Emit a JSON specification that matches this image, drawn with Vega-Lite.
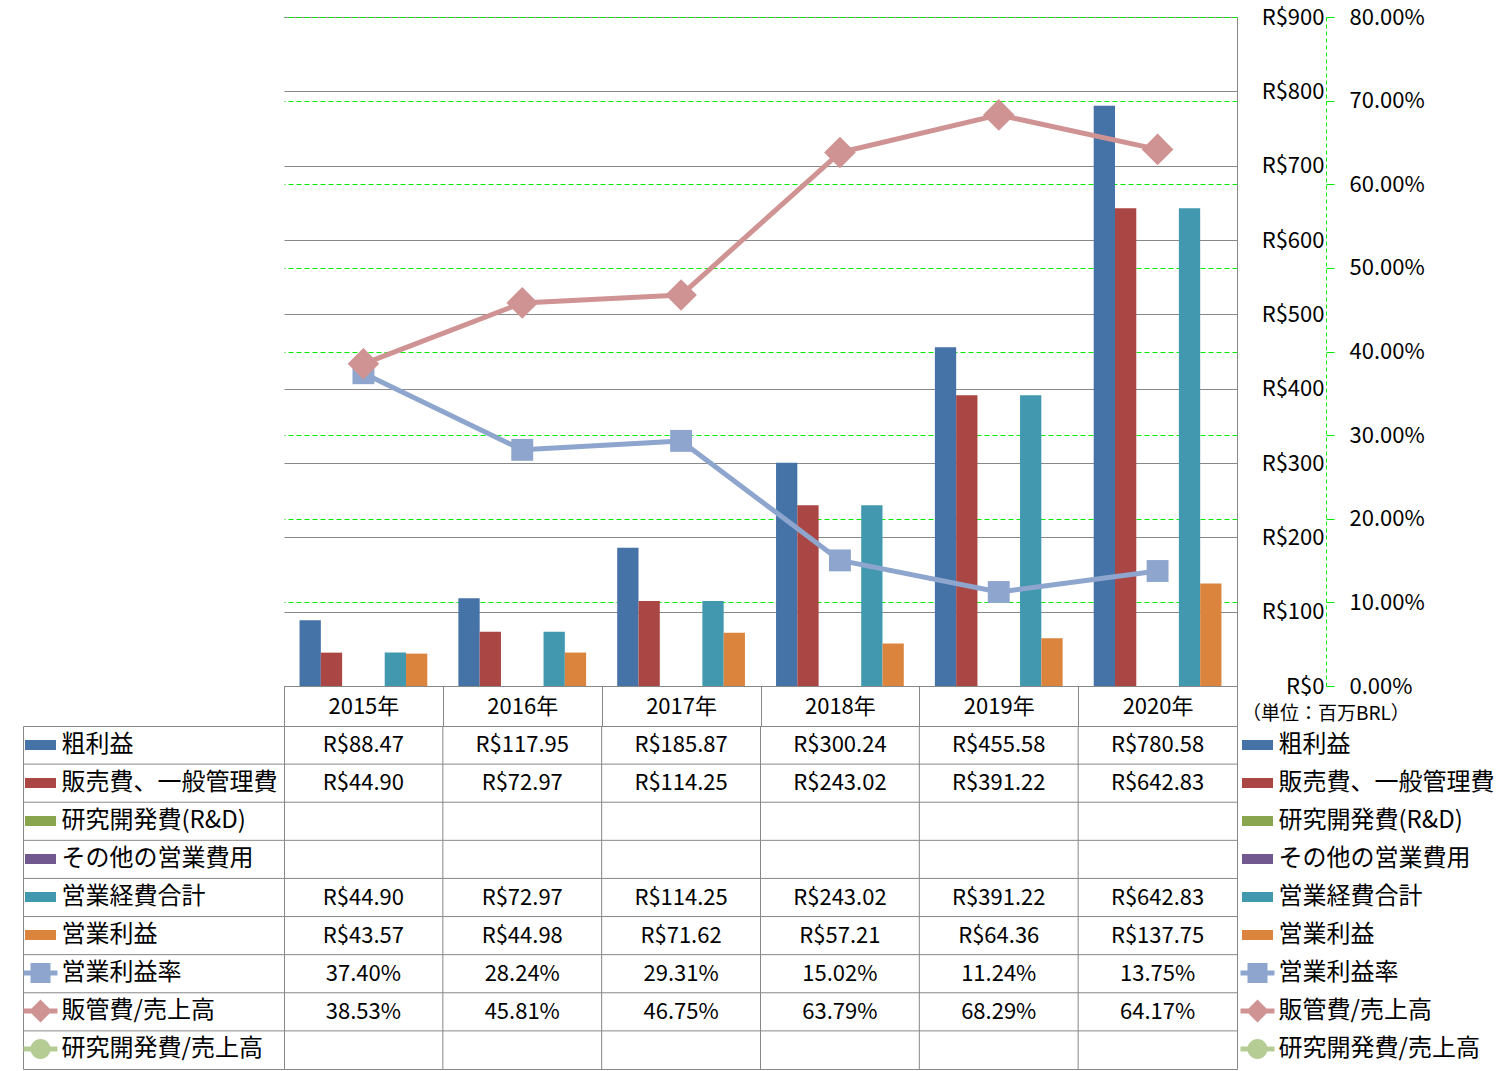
{
  "$schema": "https://vega.github.io/schema/vega-lite/v6.json",
  "background": "white",
  "padding": {"left": 22, "top": 6, "right": 0, "bottom": 2},
  "autosize": {"type": "pad"},
  "datasets": {
    "bars": [
      {"year": "2015年", "series": "粗利益", "value": 88.47},
      {"year": "2016年", "series": "粗利益", "value": 117.95},
      {"year": "2017年", "series": "粗利益", "value": 185.87},
      {"year": "2018年", "series": "粗利益", "value": 300.24},
      {"year": "2019年", "series": "粗利益", "value": 455.58},
      {"year": "2020年", "series": "粗利益", "value": 780.58},
      {"year": "2015年", "series": "販売費、一般管理費", "value": 44.90},
      {"year": "2016年", "series": "販売費、一般管理費", "value": 72.97},
      {"year": "2017年", "series": "販売費、一般管理費", "value": 114.25},
      {"year": "2018年", "series": "販売費、一般管理費", "value": 243.02},
      {"year": "2019年", "series": "販売費、一般管理費", "value": 391.22},
      {"year": "2020年", "series": "販売費、一般管理費", "value": 642.83},
      {"year": "2015年", "series": "営業経費合計", "value": 44.90},
      {"year": "2016年", "series": "営業経費合計", "value": 72.97},
      {"year": "2017年", "series": "営業経費合計", "value": 114.25},
      {"year": "2018年", "series": "営業経費合計", "value": 243.02},
      {"year": "2019年", "series": "営業経費合計", "value": 391.22},
      {"year": "2020年", "series": "営業経費合計", "value": 642.83},
      {"year": "2015年", "series": "営業利益", "value": 43.57},
      {"year": "2016年", "series": "営業利益", "value": 44.98},
      {"year": "2017年", "series": "営業利益", "value": 71.62},
      {"year": "2018年", "series": "営業利益", "value": 57.21},
      {"year": "2019年", "series": "営業利益", "value": 64.36},
      {"year": "2020年", "series": "営業利益", "value": 137.75}
    ],
    "ratios": [
      {"year": "2015年", "series": "営業利益率", "rate": 0.3740},
      {"year": "2016年", "series": "営業利益率", "rate": 0.2824},
      {"year": "2017年", "series": "営業利益率", "rate": 0.2931},
      {"year": "2018年", "series": "営業利益率", "rate": 0.1502},
      {"year": "2019年", "series": "営業利益率", "rate": 0.1124},
      {"year": "2020年", "series": "営業利益率", "rate": 0.1375},
      {"year": "2015年", "series": "販管費/売上高", "rate": 0.3853},
      {"year": "2016年", "series": "販管費/売上高", "rate": 0.4581},
      {"year": "2017年", "series": "販管費/売上高", "rate": 0.4675},
      {"year": "2018年", "series": "販管費/売上高", "rate": 0.6379},
      {"year": "2019年", "series": "販管費/売上高", "rate": 0.6829},
      {"year": "2020年", "series": "販管費/売上高", "rate": 0.6417}
    ],
    "series": [
      {"series": "粗利益"},
      {"series": "販売費、一般管理費"},
      {"series": "研究開発費(R&D)"},
      {"series": "その他の営業費用"},
      {"series": "営業経費合計"},
      {"series": "営業利益"},
      {"series": "営業利益率"},
      {"series": "販管費/売上高"},
      {"series": "研究開発費/売上高"}
    ],
    "years": [
      {"year": "2015年"}, {"year": "2016年"}, {"year": "2017年"},
      {"year": "2018年"}, {"year": "2019年"}, {"year": "2020年"}
    ]
  },
  "columns": 3,
  "spacing": {"row": 40, "column": 0},
  "bounds": "flush",
  "resolve": {
    "scale": {"color": "independent", "shape": "independent", "size": "independent"},
    "legend": {"color": "independent", "shape": "independent"}
  },
  "concat": [
    {
      "width": 261, "height": 669,
      "data": {"values": [{"a": 1}]},
      "mark": {"type": "point", "opacity": 0},
      "encoding": {}
    },
    {
      "width": 953, "height": 669,
      "layer": [
        {
          "data": {"name": "bars"},
          "mark": {"type": "bar"},
          "encoding": {
            "x": {
              "field": "year", "type": "nominal",
              "scale": {"type": "band", "domain": ["2015年", "2016年", "2017年", "2018年", "2019年", "2020年"], "paddingInner": 0, "paddingOuter": 0},
              "axis": {
                "orient": "bottom", "title": null, "labelAngle": 0,
                "domainColor": "#888888", "domainWidth": 1,
                "tickColor": "#888888", "tickWidth": 1, "tickSize": 40, "tickBand": "extent",
                "labelPadding": -20, "labelBaseline": "middle", "labelFontSize": 22, "labelColor": "black",
                "grid": false
              }
            },
            "xOffset": {
              "field": "series", "type": "nominal",
              "scale": {"domain": ["粗利益", "販売費、一般管理費", "研究開発費(R&D)", "その他の営業費用", "営業経費合計", "営業利益"], "paddingInner": 0, "paddingOuter": 0.73}
            },
            "y": {
              "field": "value", "type": "quantitative",
              "scale": {"domain": [0, 900], "nice": false},
              "axis": {
                "orient": "right", "title": null,
                "values": [0, 100, 200, 300, 400, 500, 600, 700, 800, 900],
                "format": "$d",
                "grid": true, "gridColor": "#888888", "gridWidth": 1, "gridOpacity": 1,
                "ticks": false, "domainColor": "#888888", "domainWidth": 1,
                "labelAlign": "right", "labelPadding": 87, "labelBaseline": "middle",
                "labelFontSize": 22, "labelColor": "black"
              }
            },
            "color": {
              "field": "series", "type": "nominal",
              "scale": {
                "domain": ["粗利益", "販売費、一般管理費", "研究開発費(R&D)", "その他の営業費用", "営業経費合計", "営業利益", "営業利益率", "販管費/売上高", "研究開発費/売上高"],
                "range": ["#4572A7", "#AA4643", "#89A54E", "#71588F", "#4198AF", "#DB843D", "#8EA6CE", "#D09393", "#B5CC94"]
              },
              "legend": null
            }
          }
        },
        {
          "data": {"name": "ratios"},
          "encoding": {
            "x": {"field": "year", "type": "nominal", "bandPosition": 0.5},
            "y": {
              "field": "rate", "type": "quantitative",
              "scale": {"domain": [0, 0.8], "nice": false},
              "axis": {
                "orient": "right", "offset": 89, "title": null,
                "values": [0, 0.1, 0.2, 0.3, 0.4, 0.5, 0.6, 0.7, 0.8],
                "format": ".2%",
                "grid": true, "gridColor": "#00EE00", "gridDash": [5, 3], "gridWidth": 1, "gridOpacity": 1,
                "domainColor": "#00EE00", "domainDash": [4, 3], "domainWidth": 1,
                "ticks": true, "tickColor": "#00EE00", "tickSize": 8, "tickWidth": 1,
                "labelPadding": 15, "labelBaseline": "middle", "labelFontSize": 22, "labelColor": "black"
              }
            },
            "color": {
              "field": "series", "type": "nominal",
              "scale": {
                "domain": ["粗利益", "販売費、一般管理費", "研究開発費(R&D)", "その他の営業費用", "営業経費合計", "営業利益", "営業利益率", "販管費/売上高", "研究開発費/売上高"],
                "range": ["#4572A7", "#AA4643", "#89A54E", "#71588F", "#4198AF", "#DB843D", "#8EA6CE", "#D09393", "#B5CC94"]
              },
              "legend": null
            }
          },
          "layer": [
            {"mark": {"type": "line", "strokeWidth": 5, "strokeJoin": "round", "strokeCap": "round"}},
            {
              "mark": {"type": "point", "filled": true, "opacity": 1},
              "encoding": {
                "shape": {"field": "series", "type": "nominal", "scale": {"domain": ["営業利益率", "販管費/売上高"], "range": ["square", "diamond"]}, "legend": null},
                "size": {"field": "series", "type": "nominal", "scale": {"domain": ["営業利益率", "販管費/売上高"], "range": [480, 1000]}, "legend": null}
              }
            }
          ]
        }
      ],
      "resolve": {"scale": {"y": "independent"}}
    },
    {
      "width": 266, "height": 669,
      "title": {"text": "（単位：百万BRL）", "orient": "bottom", "anchor": "start", "fontSize": 19, "fontWeight": "normal", "color": "black", "offset": 28, "dx": 5, "baseline": "middle"},
      "data": {"values": [{"a": 1}]},
      "mark": {"type": "point", "opacity": 0},
      "encoding": {}
    },
    {
      "width": 261, "height": 343,
      "view": {"stroke": "#888888", "strokeWidth": 1},
      "layer": [
        {
          "data": {"name": "series"},
          "transform": [{"filter": "datum.series !== '粗利益'"}],
          "mark": {"type": "rule", "color": "#888888", "strokeWidth": 1},
          "encoding": {
            "y": {"field": "series", "type": "nominal", "bandPosition": 0,
              "scale": {"type": "band", "domain": ["粗利益", "販売費、一般管理費", "研究開発費(R&D)", "その他の営業費用", "営業経費合計", "営業利益", "営業利益率", "販管費/売上高", "研究開発費/売上高"], "paddingInner": 0, "paddingOuter": 0},
              "axis": null}
          }
        },
        {
          "data": {"name": "series"},
          "mark": {"type": "point", "filled": true, "opacity": 0},
          "encoding": {
            "color": {
              "field": "series", "type": "nominal",
              "scale": {
                "domain": ["粗利益", "販売費、一般管理費", "研究開発費(R&D)", "その他の営業費用", "営業経費合計", "営業利益", "営業利益率", "販管費/売上高", "研究開発費/売上高"],
                "range": ["#4572A7", "#AA4643", "#89A54E", "#71588F", "#4198AF", "#DB843D", "#8EA6CE", "#D09393", "#B5CC94"]
              },
              "legend": {"orient": "none", "legendX": 0, "legendY": 7, "symbolOffset": 5.5, "labelOffset": 9}
            },
            "shape": {
              "field": "series", "type": "nominal",
              "scale": {
                "domain": ["粗利益", "販売費、一般管理費", "研究開発費(R&D)", "その他の営業費用", "営業経費合計", "営業利益", "営業利益率", "販管費/売上高", "研究開発費/売上高"],
                "range": [
                  "M-1.55,-0.5H1.55V0.5H-1.55Z",
                  "M-1.55,-0.5H1.55V0.5H-1.55Z",
                  "M-1.55,-0.5H1.55V0.5H-1.55Z",
                  "M-1.55,-0.5H1.55V0.5H-1.55Z",
                  "M-1.55,-0.5H1.55V0.5H-1.55Z",
                  "M-1.55,-0.5H1.55V0.5H-1.55Z",
                  "M-1.7,-0.25H1.7V0.25H-1.7Z M-1,-1H1V1H-1Z",
                  "M-1.7,-0.25H1.7V0.25H-1.7Z M0,-1.15L1.15,0L0,1.15L-1.15,0Z",
                  "M-1.7,-0.25H1.7V0.25H-1.7Z M-1,0A1,1,0,1,1,1,0A1,1,0,1,1,-1,0Z"
                ]
              },
              "legend": {"orient": "none", "legendX": 0, "legendY": 7, "symbolOffset": 5.5, "labelOffset": 9}
            }
          }
        }
      ]
    },
    {
      "width": 953, "height": 343,
      "view": {"stroke": "#888888", "strokeWidth": 1},
      "layer": [
        {
          "data": {"name": "series"},
          "transform": [{"filter": "datum.series !== '粗利益'"}],
          "mark": {"type": "rule", "color": "#888888", "strokeWidth": 1},
          "encoding": {
            "y": {"field": "series", "type": "nominal", "bandPosition": 0,
              "scale": {"type": "band", "domain": ["粗利益", "販売費、一般管理費", "研究開発費(R&D)", "その他の営業費用", "営業経費合計", "営業利益", "営業利益率", "販管費/売上高", "研究開発費/売上高"], "paddingInner": 0, "paddingOuter": 0},
              "axis": null}
          }
        },
        {
          "data": {"name": "years"},
          "transform": [{"filter": "datum.year !== '2015年'"}],
          "mark": {"type": "rule", "color": "#888888", "strokeWidth": 1},
          "encoding": {
            "x": {"field": "year", "type": "nominal", "bandPosition": 0,
              "scale": {"type": "band", "domain": ["2015年", "2016年", "2017年", "2018年", "2019年", "2020年"], "paddingInner": 0, "paddingOuter": 0},
              "axis": null}
          }
        },
        {
          "data": {"name": "bars"},
          "mark": {"type": "text", "fontSize": 22, "color": "black", "baseline": "middle", "align": "center"},
          "encoding": {
            "x": {"field": "year", "type": "nominal", "bandPosition": 0.5, "axis": null},
            "y": {"field": "series", "type": "nominal", "bandPosition": 0.5, "axis": null},
            "text": {"field": "value", "type": "quantitative", "format": "$.2f"}
          }
        },
        {
          "data": {"name": "ratios"},
          "mark": {"type": "text", "fontSize": 22, "color": "black", "baseline": "middle", "align": "center"},
          "encoding": {
            "x": {"field": "year", "type": "nominal", "bandPosition": 0.5, "axis": null},
            "y": {"field": "series", "type": "nominal", "bandPosition": 0.5, "axis": null},
            "text": {"field": "rate", "type": "quantitative", "format": ".2%"}
          }
        }
      ]
    },
    {
      "width": 266, "height": 343,
      "data": {"name": "series"},
      "mark": {"type": "point", "filled": true, "opacity": 0},
      "encoding": {
        "color": {
          "field": "series", "type": "nominal",
          "scale": {
            "domain": ["粗利益", "販売費、一般管理費", "研究開発費(R&D)", "その他の営業費用", "営業経費合計", "営業利益", "営業利益率", "販管費/売上高", "研究開発費/売上高"],
            "range": ["#4572A7", "#AA4643", "#89A54E", "#71588F", "#4198AF", "#DB843D", "#8EA6CE", "#D09393", "#B5CC94"]
          },
          "legend": {"orient": "none", "legendX": 0, "legendY": 7, "symbolOffset": 8.5, "labelOffset": 9}
        },
        "shape": {
          "field": "series", "type": "nominal",
          "scale": {
            "domain": ["粗利益", "販売費、一般管理費", "研究開発費(R&D)", "その他の営業費用", "営業経費合計", "営業利益", "営業利益率", "販管費/売上高", "研究開発費/売上高"],
            "range": [
              "M-1.55,-0.5H1.55V0.5H-1.55Z",
              "M-1.55,-0.5H1.55V0.5H-1.55Z",
              "M-1.55,-0.5H1.55V0.5H-1.55Z",
              "M-1.55,-0.5H1.55V0.5H-1.55Z",
              "M-1.55,-0.5H1.55V0.5H-1.55Z",
              "M-1.55,-0.5H1.55V0.5H-1.55Z",
              "M-1.7,-0.25H1.7V0.25H-1.7Z M-1,-1H1V1H-1Z",
              "M-1.7,-0.25H1.7V0.25H-1.7Z M0,-1.15L1.15,0L0,1.15L-1.15,0Z",
              "M-1.7,-0.25H1.7V0.25H-1.7Z M-1,0A1,1,0,1,1,1,0A1,1,0,1,1,-1,0Z"
            ]
          },
          "legend": {"orient": "none", "legendX": 0, "legendY": 7, "symbolOffset": 8.5, "labelOffset": 9}
        }
      }
    }
  ],
  "config": {
    "font": "Noto Sans CJK JP",
    "view": {"stroke": null},
    "locale": {"number": {"decimal": ".", "thousands": ",", "grouping": [3], "currency": ["R$", ""]}},
    "axis": {"labelFont": "Noto Sans CJK JP"},
    "legend": {
      "title": null,
      "padding": 0,
      "symbolSize": 400,
      "symbolStrokeWidth": 0,
      "symbolOpacity": 1,
      "labelFont": "Noto Sans CJK JP",
      "labelFontSize": 24,
      "labelColor": "black",
      "labelLimit": 400,
      "rowPadding": 14,
      "direction": "vertical"
    }
  }
}
